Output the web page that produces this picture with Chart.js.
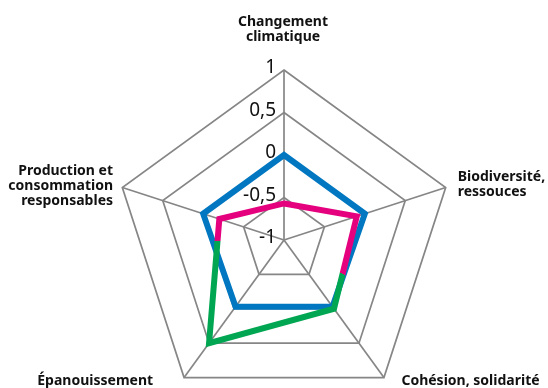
<!DOCTYPE html>
<html lang="fr">
<head>
<meta charset="utf-8">
<title>Radar</title>
<script src="https://cdn.jsdelivr.net/npm/chart.js@4.4.1/dist/chart.umd.min.js"></script>
<style>
  html, body { margin: 0; padding: 0; background: #fff; overflow: hidden; }
  #wrap { width: 548px; height: 388px; overflow: hidden; }
  canvas { display: block; }
</style>
</head>
<body>
<div id="wrap"><canvas id="radar" width="548" height="410"></canvas></div>
<script>
var categories = [
    ['Changement', 'climatique'],
    ['Biodiversité,', 'ressouces'],
    ['Cohésion, solidarité'],
    ['Épanouissement'],
    ['Production et', 'consommation', 'responsables']
];
var blueValues = [0, 0, -0.03, -0.03, 0];
var mixedValues = [-0.57, -0.1, 0, 0.5, -0.2];
var tickValues = [-1, -0.5, 0, 0.5, 1];

(function () {
    var BLUE = '#0077c0';
    var PINK = '#e5007e';
    var GREEN = '#00a651';
    var GRID = '#868686';
    var LABEL_FONT = 'bold 14px "Noto Sans"';
    var TICK_FONT = '19px "Noto Sans"';

    // angles (deg, clockwise from the right) where the second line turns green / back to pink
    var toGreen = 30;
    var toPink = 179;

    // where each axis title sits relative to its outer vertex
    var labelPlace = [
        { align: 'center', dx: -1, dy: -44 },
        { align: 'left', dx: 12, dy: -6 },
        { align: 'left', dx: 17.5, dy: 7.5 },
        { align: 'right', dx: -31, dy: 7.5 },
        { align: 'right', dx: -9.3, dy: -12 }
    ];

    function mixedStroke(context) {
        var chart = context.chart;
        var r = chart.scales.r;
        if (!r || r.xCenter === undefined || !chart.ctx.createConicGradient) {
            return PINK;
        }
        var g = chart.ctx.createConicGradient(0, r.xCenter, r.yCenter);
        var a = toGreen / 360;
        var b = toPink / 360;
        g.addColorStop(0, PINK);
        g.addColorStop(a, PINK);
        g.addColorStop(a, GREEN);
        g.addColorStop(b, GREEN);
        g.addColorStop(b, PINK);
        g.addColorStop(1, PINK);
        return g;
    }

    var tickLabels = {
        id: 'tickLabels',
        beforeDatasetsDraw: function (chart) {
            var s = chart.scales.r;
            var ctx = chart.ctx;
            ctx.save();
            ctx.font = TICK_FONT;
            ctx.fillStyle = '#111';
            ctx.textAlign = 'right';
            ctx.textBaseline = 'middle';
            s.ticks.forEach(function (t) {
                var y = s.yCenter - s.getDistanceFromCenterForValue(t.value);
                ctx.fillText(t.label, s.xCenter - 8, y - 2);
            });
            ctx.restore();
        }
    };

    var axisTitles = {
        id: 'axisTitles',
        afterDraw: function (chart) {
            var s = chart.scales.r;
            var ctx = chart.ctx;
            ctx.save();
            ctx.font = LABEL_FONT;
            ctx.fillStyle = '#111';
            ctx.textBaseline = 'alphabetic';
            categories.forEach(function (lines, i) {
                var p = s.getPointPosition(i, s.drawingArea);
                var place = labelPlace[i];
                ctx.textAlign = place.align;
                lines.forEach(function (line, k) {
                    ctx.fillText(line, p.x + place.dx, p.y + place.dy + k * 14.7);
                });
            });
            ctx.restore();
        }
    };

    new Chart(document.getElementById('radar'), {
        type: 'radar',
        data: {
            labels: categories,
            datasets: [
                {
                    data: mixedValues,
                    borderColor: mixedStroke,
                    borderWidth: 6,
                    pointRadius: 0,
                    fill: false
                },
                {
                    data: blueValues,
                    borderColor: BLUE,
                    borderWidth: 6,
                    pointRadius: 0,
                    fill: false
                }
            ]
        },
        options: {
            responsive: false,
            animation: false,
            layout: {
                padding: { left: 21, right: 0, top: 70, bottom: 0 }
            },
            plugins: {
                legend: { display: false },
                tooltip: { enabled: false }
            },
            scales: {
                r: {
                    min: -1,
                    max: 1,
                    afterBuildTicks: function (scale) {
                        scale.ticks = tickValues.map(function (v) {
                            return { value: v };
                        });
                    },
                    ticks: {
                        display: false,
                        callback: function (value) {
                            return String(value).replace('.', ',');
                        }
                    },
                    pointLabels: { display: false },
                    grid: { color: GRID, lineWidth: 1.7 },
                    angleLines: { color: GRID, lineWidth: 1.7 }
                }
            }
        },
        plugins: [tickLabels, axisTitles]
    });
})();
</script>
</body>
</html>
